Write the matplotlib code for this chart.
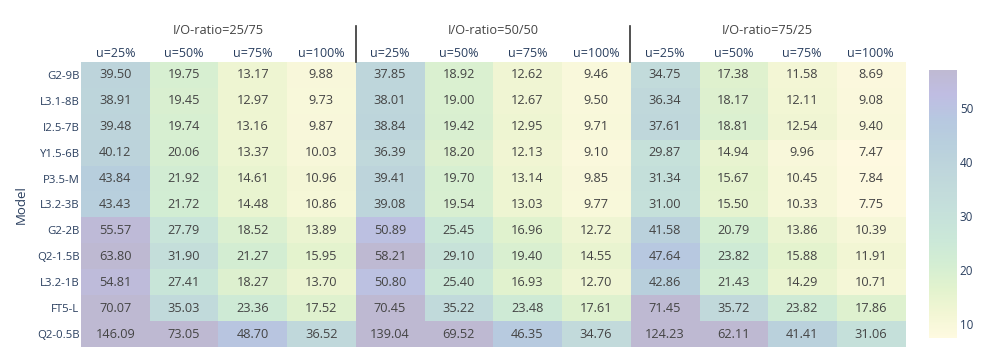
#!/usr/bin/env python3
"""Heatmap of per-model values by I/O ratio and utilisation."""

import matplotlib

matplotlib.use("Agg")
import matplotlib.pyplot as plt
import numpy as np
from matplotlib.colors import LinearSegmentedColormap
from matplotlib.transforms import blended_transform_factory

models = ["G2-9B", "L3.1-8B", "I2.5-7B", "Y1.5-6B", "P3.5-M", "L3.2-3B",
          "G2-2B", "Q2-1.5B", "L3.2-1B", "FT5-L", "Q2-0.5B"]
util_labels = ["u=25%", "u=50%", "u=75%", "u=100%"]
ratio_groups = ["I/O-ratio=25/75", "I/O-ratio=50/50", "I/O-ratio=75/25"]

ratio_25_75 = [
    [39.50, 19.75, 13.17, 9.88],
    [38.91, 19.45, 12.97, 9.73],
    [39.48, 19.74, 13.16, 9.87],
    [40.12, 20.06, 13.37, 10.03],
    [43.84, 21.92, 14.61, 10.96],
    [43.43, 21.72, 14.48, 10.86],
    [55.57, 27.79, 18.52, 13.89],
    [63.80, 31.90, 21.27, 15.95],
    [54.81, 27.41, 18.27, 13.70],
    [70.07, 35.03, 23.36, 17.52],
    [146.09, 73.05, 48.70, 36.52],
]
ratio_50_50 = [
    [37.85, 18.92, 12.62, 9.46],
    [38.01, 19.00, 12.67, 9.50],
    [38.84, 19.42, 12.95, 9.71],
    [36.39, 18.20, 12.13, 9.10],
    [39.41, 19.70, 13.14, 9.85],
    [39.08, 19.54, 13.03, 9.77],
    [50.89, 25.45, 16.96, 12.72],
    [58.21, 29.10, 19.40, 14.55],
    [50.80, 25.40, 16.93, 12.70],
    [70.45, 35.22, 23.48, 17.61],
    [139.04, 69.52, 46.35, 34.76],
]
ratio_75_25 = [
    [34.75, 17.38, 11.58, 8.69],
    [36.34, 18.17, 12.11, 9.08],
    [37.61, 18.81, 12.54, 9.40],
    [29.87, 14.94, 9.96, 7.47],
    [31.34, 15.67, 10.45, 7.84],
    [31.00, 15.50, 10.33, 7.75],
    [41.58, 20.79, 13.86, 10.39],
    [47.64, 23.82, 15.88, 11.91],
    [42.86, 21.43, 14.29, 10.71],
    [71.45, 35.72, 23.82, 17.86],
    [124.23, 62.11, 41.41, 31.06],
]

# cmocean "haline" reversed, drawn at 30% opacity over white
haline = [(41, 24, 107), (42, 35, 160), (15, 71, 153), (18, 95, 142), (38, 116, 137),
          (53, 136, 136), (65, 157, 133), (81, 178, 124), (111, 198, 107),
          (160, 214, 91), (212, 225, 112), (253, 238, 153)]
alpha = 0.3
faded = [tuple((1 - alpha) + alpha * c / 255 for c in rgb) for rgb in haline[::-1]]
cmap = LinearSegmentedColormap.from_list("haline_r_faded", faded)

plt.rcParams["font.family"] = ["Open Sans", "DejaVu Sans"]
AXIS_COLOR = "#2a3f5f"
TEXT_COLOR = "#444444"

W, H = 996, 363
data = np.hstack([np.array(ratio_25_75), np.array(ratio_50_50), np.array(ratio_75_25)])
n_rows, n_cols = data.shape
vmin, vmax = 7.47, 57.0

fig = plt.figure(figsize=(W / 100, H / 100), dpi=100)
left, right, top, bottom = 81, 905, 62, 347
ax = fig.add_axes([left / W, 1 - bottom / H, (right - left) / W, (bottom - top) / H])
im = ax.imshow(data, cmap=cmap, vmin=vmin, vmax=vmax, aspect="auto",
               interpolation="nearest")

for i in range(n_rows):
    for j in range(n_cols):
        ax.text(j, i, f"{data[i, j]:.2f}", ha="center", va="center",
                fontsize=9.2, color=TEXT_COLOR)

ax.set_yticks(range(n_rows))
ax.set_yticklabels(models, fontsize=8.2, color=AXIS_COLOR)
ax.set_xticks(range(n_cols))
ax.set_xticklabels(util_labels * 3, fontsize=9, color=AXIS_COLOR)
ax.xaxis.tick_top()
ax.tick_params(axis="both", length=0)
ax.tick_params(axis="x", pad=1.5)
ax.tick_params(axis="y", pad=1)
for spine in ax.spines.values():
    spine.set_visible(False)
ax.set_ylabel("Model", fontsize=9.5, color=AXIS_COLOR, labelpad=7)

# group headers and separators above the grid
ax_h = bottom - top
trans = blended_transform_factory(ax.transData, ax.transAxes)
for g, name in enumerate(ratio_groups):
    ax.text(g * 4 + 1.5, 1 + (top - 30) / ax_h, name, transform=trans,
            ha="center", va="center", fontsize=9.2, color=TEXT_COLOR)
for g in (1, 2):
    ax.plot([g * 4 - 0.5, g * 4 - 0.5], [1, 1 + (top - 26) / ax_h], transform=trans,
            color="#333333", lw=1.2, clip_on=False)

cax = fig.add_axes([929 / W, 1 - 338 / H, 28 / W, 268 / H])
cb = fig.colorbar(im, cax=cax, ticks=[10, 20, 30, 40, 50])
cb.outline.set_visible(False)
cax.tick_params(length=0, pad=2, labelsize=8.4, labelcolor=AXIS_COLOR)

fig.savefig("out.png", dpi=100)
